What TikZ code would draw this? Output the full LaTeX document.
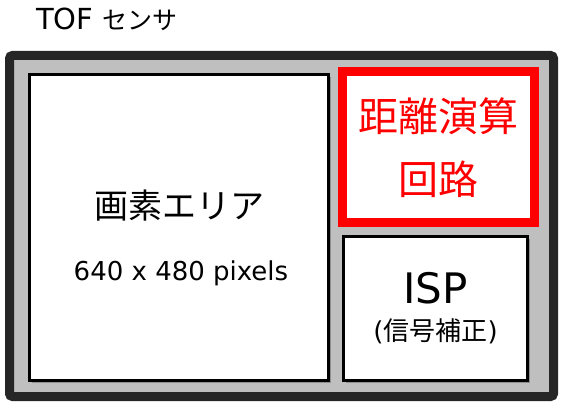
\documentclass[tikz,border=0pt]{standalone}
\usepackage{fontspec}
\setmainfont{DejaVu Sans}
\newfontfamily\jp{Noto Sans CJK JP}
\usetikzlibrary{shadows}

\definecolor{framegray}{HTML}{262626}
\definecolor{fillgray}{HTML}{BFBFBF}
\definecolor{calcred}{HTML}{FF0000}

\tikzset{
  soft shadow/.style={drop shadow={shadow xshift=2pt, shadow yshift=-2.5pt, fill=black, opacity=0.25}},
  block/.style={draw, line width=3pt, fill=white, soft shadow, inner sep=0pt},
}

\begin{document}
\begin{tikzpicture}[x=1pt, y=-1pt]
  \useasboundingbox (0,0) rectangle (564,409);

  \node[draw=framegray, fill=fillgray, line width=9pt, rounded corners=3pt, soft shadow,
        minimum width=544pt, minimum height=341pt] (sensor) at (281.5, 226) {};

  \node[block, minimum width=299pt, minimum height=306pt] (area) at (179, 227.5) {};
  \node[block, draw=calcred, line width=9pt, minimum width=192pt, minimum height=151pt] (calc) at (438.5, 147) {};
  \node[block, minimum width=184pt, minimum height=143.5pt] (isp) at (435.5, 308.25) {};

  \node (title) at (107, 19) {\fontsize{29}{34}\selectfont TOF {\jp\fontsize{25}{30}\selectfont センサ}};

  \node (areaname) at (179, 206) {\jp\fontsize{34}{40}\selectfont 画素エリア};
  \node (areasize) at (181, 273) {\fontsize{26}{31}\selectfont 640 x 480 pixels};

  \node[text=calcred] (calcname) at (438.5, 116) {\jp\fontsize{40}{48}\selectfont 距離演算};
  \node[text=calcred] (calcname2) at (438.5, 179) {\jp\fontsize{40}{48}\selectfont 回路};

  \node (ispname) at (435.5, 288) {\fontsize{42}{50}\selectfont ISP};
  \node (ispnote) at (435.5, 331) {\fontsize{26}{31}\selectfont ({\jp 信号補正})};
\end{tikzpicture}
\end{document}
